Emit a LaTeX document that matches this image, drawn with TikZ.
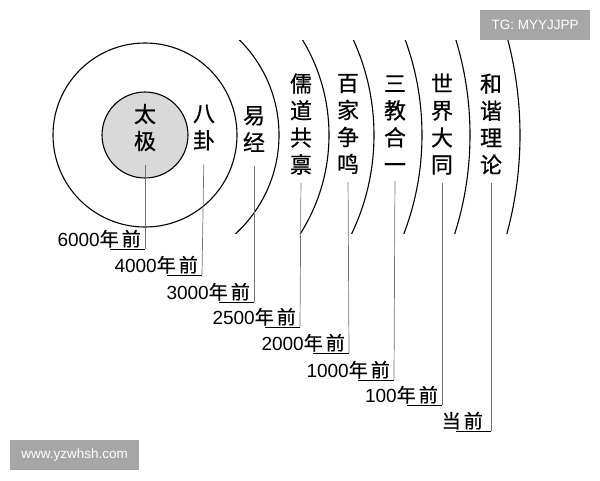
\documentclass[tikz,border=0pt]{standalone}
\usepackage{fontspec}
\setmainfont{Liberation Sans}
\newfontfamily\cjk[FakeBold=0.6]{Noto Sans CJK SC}
\begin{document}
\begin{tikzpicture}[x=1pt,y=-1pt,
  vlabel/.style={font=\cjk\fontsize{22}{27}\selectfont, align=center, inner sep=0pt},
  datelabel/.style={font=\fontsize{19}{19}\selectfont, anchor=base east, inner sep=0pt},
  leader/.style={draw=black!55, line width=0.7pt},
  under/.style={draw=black, line width=0.8pt},
  ring/.style={draw=black, line width=1.1pt},
  wmark/.style={fill=black!35, text=white, font=\fontsize{13.5}{13.5}\selectfont, inner sep=0pt, minimum height=30pt}
]
\useasboundingbox (0,0) rectangle (600,480);
\fill[white] (0,0) rectangle (600,480);
\coordinate (o) at (145,135);
% circles
\draw[ring, fill=black!15] (o) circle[radius=43pt];
\draw[ring] (o) circle[radius=92pt];
\begin{scope}
  \clip (222,40) rectangle (600,233);
  \foreach \r in {134,184,229,277,325,375}{
    \draw[ring] (o) circle[radius=\r pt];
  }
\end{scope}
% main labels
\node[vlabel] (tj) at (145,127.5) {太\\极};
\node[vlabel] (bg) at (204,127.5) {八\\卦};
\node[vlabel] (yj) at (254,129) {易\\经};
\node[vlabel] (rd) at (301,124) {儒\\道\\共\\禀};
\node[vlabel] (bj) at (348,124) {百\\家\\争\\鸣};
\node[vlabel] (sj) at (395,124) {三\\教\\合\\一};
\node[vlabel] (sd) at (442,124) {世\\界\\大\\同};
\node[vlabel] (hx) at (491,124) {和\\谐\\理\\论};
% corners
\coordinate (c1) at (145,249); \coordinate (u1) at (110,249);
\coordinate (c2) at (202,275); \coordinate (u2) at (167,275);
\coordinate (c3) at (254,302); \coordinate (u3) at (219,302);
\coordinate (c4) at (300,327); \coordinate (u4) at (265,327);
\coordinate (c5) at (349,353); \coordinate (u5) at (313,353);
\coordinate (c6) at (394,380); \coordinate (u6) at (358,380);
\coordinate (c7) at (442,405); \coordinate (u7) at (407,405);
\coordinate (c8) at (491,431); \coordinate (u8) at (456,431);
% dates
\node[datelabel] (d1) at (141,246) {6000{\cjk 年\kern3pt 前}};
\node[datelabel] (d2) at (198,272) {4000{\cjk 年\kern3pt 前}};
\node[datelabel] (d3) at (250,299) {3000{\cjk 年\kern3pt 前}};
\node[datelabel] (d4) at (296,324) {2500{\cjk 年\kern3pt 前}};
\node[datelabel] (d5) at (345,350) {2000{\cjk 年\kern3pt 前}};
\node[datelabel] (d6) at (390,377) {1000{\cjk 年\kern3pt 前}};
\node[datelabel] (d7) at (438,402) {100{\cjk 年\kern3pt 前}};
\node[datelabel] (d8) at (483,428) {{\cjk 当\kern3pt 前}};
% leaders
\draw[leader, shorten <=14pt] (tj.south) -- (c1);
\draw[leader, shorten <=14pt] (bg.south) -- (c2);
\draw[leader, shorten <=14pt] (yj.south) -- (c3);
\draw[leader, shorten <=8pt] (rd.south) -- (c4);
\draw[leader, shorten <=8pt] (bj.south) -- (c5);
\draw[leader, shorten <=8pt] (sj.south) -- (c6);
\draw[leader, shorten <=8pt] (sd.south) -- (c7);
\draw[leader, shorten <=8pt] (hx.south) -- (c8);
\foreach \i in {1,...,8}{ \draw[under] (c\i) -- (u\i); }
% watermarks
\node[wmark, minimum width=110pt, anchor=north west] (tg) at (480,10) {TG: MYYJJPP};
\node[wmark, minimum width=129pt, anchor=north west] (www) at (10,440) {www.yzwhsh.com};
\end{tikzpicture}
\end{document}
